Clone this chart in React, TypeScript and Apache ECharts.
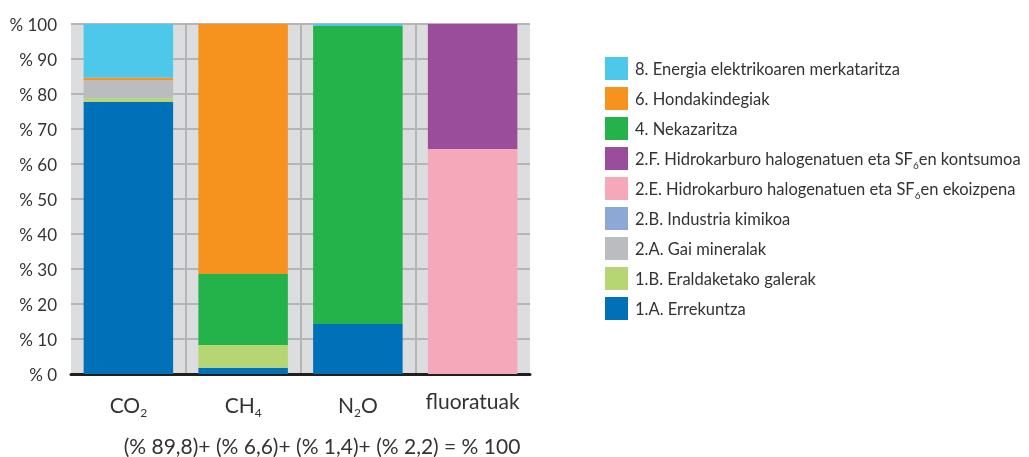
import React, { useEffect, useRef } from "react";
import * as echarts from "echarts";

const categories = ["CO2", "CH4", "N2O", "fluoratuak"];
const categoryLabels = ["CO{sub|2}", "CH{sub|4}", "N{sub|2}O", "fluoratuak"];

const seriesNames = [
  "1.A. Errekuntza",
  "1.B. Eraldaketako galerak",
  "2.A. Gai mineralak",
  "2.B. Industria kimikoa",
  "2.E. Hidrokarburo halogenatuen eta SF6en ekoizpena",
  "2.F. Hidrokarburo halogenatuen eta SF6en kontsumoa",
  "4. Nekazaritza",
  "6. Hondakindegiak",
  "8. Energia elektrikoaren merkataritza",
];
const legendLabels = [
  "1.A. Errekuntza",
  "1.B. Eraldaketako galerak",
  "2.A. Gai mineralak",
  "2.B. Industria kimikoa",
  "2.E. Hidrokarburo halogenatuen eta SF{sub|6}en ekoizpena",
  "2.F. Hidrokarburo halogenatuen eta SF{sub|6}en kontsumoa",
  "4. Nekazaritza",
  "6. Hondakindegiak",
  "8. Energia elektrikoaren merkataritza",
];
const seriesColors = [
  "#0071b9",
  "#b5d672",
  "#bbbcbf",
  "#8ea8d6",
  "#f5a8ba",
  "#9a4d9b",
  "#24b24b",
  "#f6921e",
  "#4dc7ea",
];

// values per category: CO2, CH4, N2O, fluoratuak
const errekuntza = [77.7, 1.8, 14.3, 0];
const eraldaketa = [1.1, 6.5, 0, 0];
const gaiMineralak = [5.2, 0, 0, 0];
const industriaKimikoa = [0, 0, 0, 0];
const hfcEkoizpena = [0, 0, 0, 64.3];
const hfcKontsumoa = [0, 0, 0, 35.7];
const nekazaritza = [0, 20.3, 85.1, 0];
const hondakindegiak = [0.7, 71.4, 0, 0];
const merkataritza = [15.3, 0, 0.6, 0];

const seriesValues = [
  errekuntza,
  eraldaketa,
  gaiMineralak,
  industriaKimikoa,
  hfcEkoizpena,
  hfcKontsumoa,
  nekazaritza,
  hondakindegiak,
  merkataritza,
];

const yTicks = [0, 10, 20, 30, 40, 50, 60, 70, 80, 90, 100];
const footnote = "(% 89,8)+ (% 6,6)+ (% 1,4)+ (% 2,2) = % 100";

const FONT = "Lato, 'Open Sans', sans-serif";

export default function App() {
  const ref = useRef<HTMLDivElement>(null);
  useEffect(() => {
    const chart = echarts.init(ref.current!, null, { renderer: "svg" });
    chart.setOption({
      animation: false,
      textStyle: { fontFamily: FONT },
      grid: {
        left: 71,
        right: 499,
        top: 24,
        bottom: 83,
        show: true,
        backgroundColor: "#dcdddf",
        borderWidth: 0,
        containLabel: false,
      },
      legend: {
        orient: "vertical",
        left: 600,
        top: 52,
        itemWidth: 23,
        itemHeight: 23,
        itemGap: 7,
        icon: "rect",
        data: seriesNames.slice().reverse(),
        formatter: (name: string) => legendLabels[seriesNames.indexOf(name)],
        textStyle: {
          fontFamily: FONT,
          fontSize: 16.5,
          color: "#333",
          padding: [0, 0, 0, 2],
          rich: {
            sub: { fontSize: 10, verticalAlign: "bottom", padding: [12, 0, 0, 0], color: "#333", fontFamily: FONT },
          },
        },
        selectedMode: false,
      },
      xAxis: {
        type: "category",
        data: categories,
        axisLine: { show: true, lineStyle: { color: "#231f20", width: 3 } },
        axisTick: { show: false },
        splitLine: {
          show: true,
          showMinLine: false,
          showMaxLine: false,
          lineStyle: { color: "#b5b5b6", width: 2 },
        },
        axisLabel: {
          interval: 0,
          margin: 16,
          fontSize: 21,
          color: "#333",
          fontFamily: FONT,
          formatter: (v: string) => categoryLabels[categories.indexOf(v)],
          rich: {
            sub: { fontSize: 12, verticalAlign: "bottom", padding: [16, 0, 0, 0], color: "#333", fontFamily: FONT },
          },
        },
      },
      yAxis: {
        type: "value",
        min: yTicks[0],
        max: yTicks[yTicks.length - 1],
        interval: 10,
        axisLine: { show: false },
        axisTick: { show: false },
        splitLine: { show: true, lineStyle: { color: "#b5b5b6", width: 2 } },
        axisLabel: {
          margin: 14,
          fontSize: 17,
          color: "#333",
          fontFamily: FONT,
          formatter: (v: number) => "% " + v,
        },
      },
      graphic: [
        {
          type: "text",
          x: 322,
          y: 445,
          style: {
            text: footnote,
            fontSize: 21,
            fill: "#333",
            fontFamily: FONT,
            align: "center",
            verticalAlign: "middle",
          },
        },
      ],
      series: seriesNames.map((name, i) => ({
        name,
        type: "bar",
        stack: "total",
        barWidth: "78%",
        itemStyle: { color: seriesColors[i] },
        data: seriesValues[i],
      })),
    });
    return () => chart.dispose();
  }, []);
  return (
    <div
      ref={ref}
      style={{ position: "fixed", left: 0, top: 0, width: 1029, height: 457 }}
    />
  );
}
